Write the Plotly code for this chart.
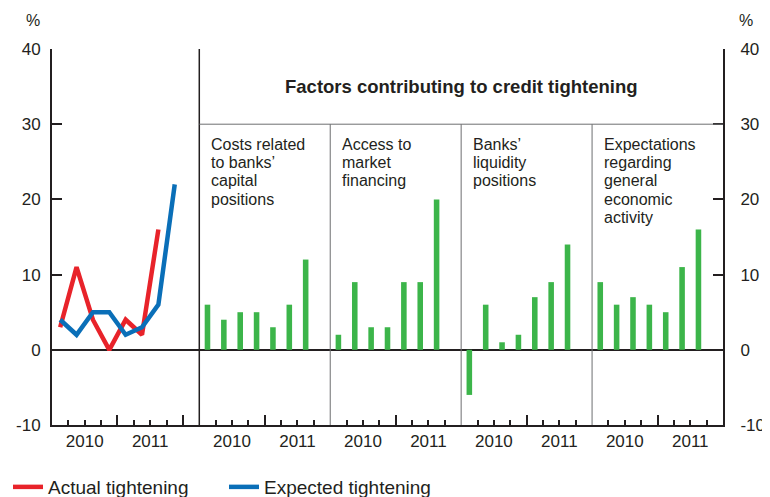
import plotly.graph_objects as go

# ---------------- data ----------------
line_quarters = ["2010 Q1", "2010 Q2", "2010 Q3", "2010 Q4",
                 "2011 Q1", "2011 Q2", "2011 Q3", "2011 Q4", "2012 Q1"]
actual_tightening = [3, 11, 4, 0, 4, 2, 16]
expected_tightening = [4, 2, 5, 5, 2, 3, 6, 22]

bar_quarters = ["2010 Q1", "2010 Q2", "2010 Q3", "2010 Q4",
                "2011 Q1", "2011 Q2", "2011 Q3", "2011 Q4"]
factor_titles = [["Costs related", "to banks’", "capital", "positions"],
                 ["Access to", "market", "financing"],
                 ["Banks’", "liquidity", "positions"],
                 ["Expectations", "regarding", "general", "economic", "activity"]]
costs_capital = [6, 4, 5, 5, 3, 6, 12]
access_market = [2, 9, 3, 3, 9, 9, 20]
liquidity_positions = [-6, 6, 1, 2, 7, 9, 14]
economic_expectations = [9, 6, 7, 6, 5, 11, 16]
factor_values = [costs_capital, access_market, liquidity_positions, economic_expectations]

year_labels = ["2010", "2011"]
y_ticks = [-10, 0, 10, 20, 30, 40]
y_tick_text = ["-10", "0", "10", "20", "30", "40"]
panel_title = "Factors contributing to credit tightening"

# ---------------- styling ----------------
TXT = "#231f20"
RED = "#e8232a"
BLUE = "#0a6fb8"
GREEN = "#3cb54a"
GRAY = "#6d6e70"
FONT = "Liberation Sans, Arial, sans-serif"

n_left = len(line_quarters)          # slots in line panel
n_panel = len(bar_quarters)          # slots in each bar panel
n_total = n_left + n_panel * len(factor_values)

fig = go.Figure()

# line panel
fig.add_trace(go.Scatter(
    x=[i + 0.5 for i in range(len(actual_tightening))], y=actual_tightening,
    mode="lines", name="Actual tightening",
    line=dict(color=RED, width=4.5), hoverinfo="skip"))
fig.add_trace(go.Scatter(
    x=[i + 0.5 for i in range(len(expected_tightening))], y=expected_tightening,
    mode="lines", name="Expected tightening",
    line=dict(color=BLUE, width=4.5), hoverinfo="skip"))

# bar panels
for p, vals in enumerate(factor_values):
    start = n_left + p * n_panel
    fig.add_trace(go.Bar(
        x=[start + j + 0.5 for j in range(len(vals))], y=vals,
        width=0.34, marker=dict(color=GREEN, line=dict(width=0)),
        showlegend=False, hoverinfo="skip"))

# invisible trace for overlay axes
fig.add_trace(go.Scatter(x=[0], y=[0], xaxis="x2", yaxis="y2", mode="markers",
                         marker=dict(opacity=0), showlegend=False, hoverinfo="skip"))

# tick positions
label_pos, label_txt, short_ticks, tall_ticks = [], [], [], []
label_offsets = [2, 6]
for k in range(1, n_left):
    if k % 4 == 0:
        tall_ticks.append(k)
    elif k not in label_offsets:
        short_ticks.append(k)
label_pos += label_offsets
label_txt += year_labels
for p in range(len(factor_values)):
    start = n_left + p * n_panel
    for k in range(1, n_panel):
        if k % 4 == 0:
            tall_ticks.append(start + k)
        elif k not in label_offsets:
            short_ticks.append(start + k)
    label_pos += [start + o for o in label_offsets]
    label_txt += year_labels

# the page body adds an 8px offset, so the figure is 8px smaller than the window
fig.update_layout(
    width=762, height=489,
    margin=dict(l=44, r=47, t=41, b=72, autoexpand=False),
    paper_bgcolor="white", plot_bgcolor="white",
    font=dict(family=FONT, color=TXT, size=16),
    barmode="overlay",
    xaxis=dict(range=[0, n_total], showgrid=False, zeroline=False, automargin=False,
               showline=True, linecolor=TXT, linewidth=2,
               tickmode="array", tickvals=short_ticks + label_pos,
               ticktext=[""] * len(short_ticks) + label_txt,
               ticks="inside", ticklen=5, tickwidth=1.5, tickcolor=TXT,
               tickfont=dict(size=17, color=TXT), fixedrange=True),
    xaxis2=dict(range=[0, n_total], overlaying="x", anchor="y2", side="bottom",
                showgrid=False, zeroline=False, showline=False, automargin=False,
                tickmode="array", tickvals=tall_ticks, showticklabels=False,
                ticks="inside", ticklen=10, tickwidth=1.5, tickcolor=TXT),
    yaxis=dict(range=[-10, 40], tickmode="array", tickvals=y_ticks, ticktext=y_tick_text,
               showgrid=False, zeroline=True, zerolinecolor=TXT, zerolinewidth=2,
               showline=True, linecolor=TXT, linewidth=2, automargin=False,
               ticks="inside", ticklen=10, tickwidth=2, tickcolor=TXT,
               ticklabelstandoff=6,
               tickfont=dict(size=17, color=TXT)),
    yaxis2=dict(range=[-10, 40], overlaying="y", side="right", anchor="x",
                tickmode="array", tickvals=y_ticks, ticktext=y_tick_text,
                showgrid=False, zeroline=False, automargin=False,
                showline=True, linecolor=TXT, linewidth=2,
                ticks="inside", ticklen=10, tickwidth=2, tickcolor=TXT,
                ticklabelstandoff=12,
                tickfont=dict(size=17, color=TXT)),
    legend=dict(orientation="h", xref="container", yref="container",
                x=0.0, xanchor="left", y=0.0204, yanchor="middle",
                font=dict(size=19, color=TXT), itemwidth=30,
                entrywidth=171, entrywidthmode="pixels",
                bgcolor="rgba(0,0,0,0)"),
)

# dividers
shapes = [
    dict(type="line", xref="x", yref="y", x0=n_left, x1=n_left, y0=-10, y1=40,
         line=dict(color=TXT, width=1.5)),
    dict(type="line", xref="x", yref="y", x0=n_left, x1=n_total, y0=30, y1=30,
         line=dict(color=GRAY, width=1)),
]
for p in range(1, len(factor_values)):
    xv = n_left + p * n_panel
    shapes.append(dict(type="line", xref="x", yref="y", x0=xv, x1=xv, y0=-10, y1=30,
                       line=dict(color=GRAY, width=1)))
fig.update_layout(shapes=shapes)

annotations = [
    dict(text="<b>" + panel_title + "</b>", x=(n_left + n_total) / 2, y=35.07,
         xref="x", yref="y", xanchor="center", yanchor="middle", showarrow=False,
         font=dict(size=18.5, color=TXT)),
    dict(text="%", x=-0.0283, y=1.077, xref="paper", yref="paper", showarrow=False,
         xanchor="center", yanchor="middle", font=dict(size=16, color=TXT)),
    dict(text="%", x=1.034, y=1.077, xref="paper", yref="paper", showarrow=False,
         xanchor="center", yanchor="middle", font=dict(size=16, color=TXT)),
]
LINE_STEP = 2.44   # line spacing in axis units (~18px)
for p, lines in enumerate(factor_titles):
    start = n_left + p * n_panel
    for li, txt in enumerate(lines):
        annotations.append(dict(text=txt, x=start + 0.62, y=27.33 - li * LINE_STEP,
                                xref="x", yref="y", xanchor="left", yanchor="middle",
                                align="left", showarrow=False,
                                font=dict(size=16, color=TXT)))
fig.update_layout(annotations=annotations)

fig.write_html("out.html")
